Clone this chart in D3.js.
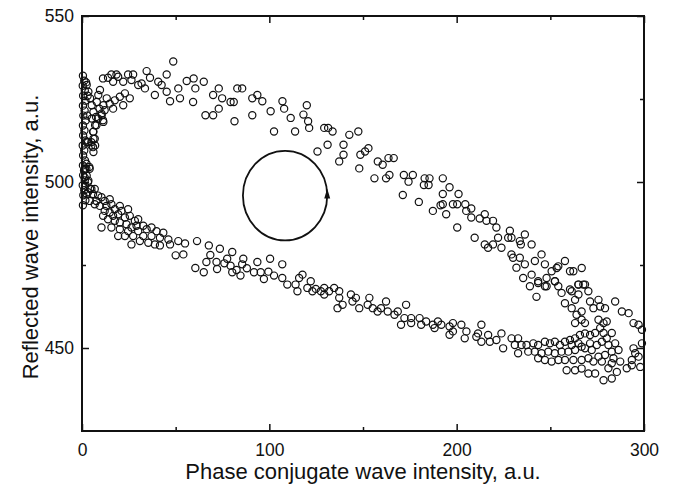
<!DOCTYPE html>
<html>
<head>
<meta charset="utf-8">
<script src="https://cdn.jsdelivr.net/npm/d3@7"></script>
<style>
  body { margin: 0; background: #fff; }
  svg { display: block; font-family: "Liberation Sans", Arial, sans-serif; }
</style>
</head>
<body>
<div id="chart"></div>
<script>
// Axis setup
const xDomain = [0, 300];
const yDomain = [425, 550];
const xTicks = [0, 100, 200, 300];
const xMinorTicks = [50, 150, 250];
const yTicks = [450, 500, 550];
const yMinorTicks = [475, 525];

// Loop annotation (centre and radii in data units)
const loopCentre = [108.4, 495.9];
const loopRadius = [22.5, 13.5];

// Points squeezed against the left axis
const leftEdge = [
  [0.5,532],[1.2,530.5],[0.4,529],[1.5,527.5],[0.6,526],[1.8,524.5],[0.5,523],[1.4,521.5],
  [0.7,520],[2,518.5],[0.5,517],[1.3,515.5],[0.6,514],[1.8,512.5],[0.4,511],[1.2,509.5],
  [0.6,508],[1.6,506.5],[0.5,505],[1.1,503.5],[2.4,505.5],[0.6,502],[1.5,500.5],[0.4,499],
  [1.2,497.5],[0.7,496],[1.8,494.5],[0.5,493],[2.5,512],[2.8,520],[3,526],[2.2,530]
];

// Dense knot near x = 0..15
const knot = [
  [2.5,529.2],[3.4,527.2],[4.3,525.2],[5.2,523.1],[6.1,521.1],[5.2,519.1],[7,517.1],[6.1,515.1],
  [6.1,513],[7,511],[6.1,509],[3.9,504.5],[1.6,503.9],[2.5,501.9],[3.4,500.4],[1.6,498.9],
  [4.3,497.9],[2.5,496.4],[7.9,524.1],[8.7,526.2],[9.6,527.7],[9.3,522.1],[10.5,520.1],[7.5,519.6],
  [11.4,523.1],[13.2,525.2],[11.4,518.1],[12.1,521.6],[10.4,520.6],[8.6,519.1],[11.2,518.6],
  [7.7,517.1],[5.9,515.1],[6.8,513],[5,511],[3.2,512],[14.8,523.6],[16.6,522.1],[5,512],
  [5.9,510.5],[2.3,504],[4.1,504]
];

// Upper branch (increasing PC intensity, reflected wave falling from ~530)
const upperBranch = [
  [48.7,536.3],[11.2,531.2],[13.9,531.4],[15.7,532.4],[18.4,532.4],[19.3,531.7],[24.6,532.4],[27.3,532.4],
  [34.5,533.4],[45.2,532.4],[36.3,531.4],[40.7,530.2],[30,529.2],[26.4,530.7],[22,530.2],[16.6,530.2],
  [31.8,529.7],[42.5,529.2],[45.2,527.2],[51.4,528.2],[55.9,530.4],[52.3,525.2],[47,524.3],[38.9,526.2],
  [33.6,528.2],[22.9,526.7],[20.2,525.7],[25.5,525.2],[17.5,524.6],[22,523.1],
  [59.6,531.2],[60.5,528.2],[65,530.2],[59.3,524.1],[65.9,520.1],[70,520.1],[73,528.2],[70,526.2],
  [74.8,525.2],[79.3,524.1],[81,524.1],[81.4,518.3],[73,522.1],[82.9,528.2],[85.5,528.2],
  [90.9,525.2],[93.6,526.2],[96.25,524.3],[90.9,520.1],[100.7,521.3],[107,524.3],[107.9,522.1],[111.4,519.3],
  [120,523.1],[118.2,520.3],[120.7,518.3],[121.25,516.3],[102.5,515.2],[113.75,515.2],[129.3,516.3],[131.4,516.3],
  [133.75,515.2],[142.7,514.2],[147.5,515.2],[131.1,511.2],[139.6,511.2],[125.7,509.2],[139.6,508.2],[137.3,506.2],
  [148.6,508.2],[151.1,509.2],[152.9,510.2],[148,504.1],[157.9,506.2],[160.5,505.2],[163.6,507.2],[166.4,507.2],
  [156.1,501.1],[162.3,501.1],[164.1,502.1],[171.8,502.1],[174.3,500.1],[176.6,502.1],[182.9,501.1],[185.5,501.1],
  [182.5,499.1],[185,499.1],[171.25,496.1],[179.8,494],[187.3,491.3],[191.4,493],
  [192.6,501.1],[196.2,498.4],[192.6,496.4],[192.6,493.3],[198,493.3],[200.3,493.3],[201,496.4],[204.6,493.3],
  [207.8,492],[205.1,491.3],[194.4,490.3],[207.8,489.3],[212.3,489],[215,490.3],[215.9,488.3],[219.4,488.3],
  [221.2,486.3],[200.3,486.3],[209.6,483.2],[215,481.2],[216.75,480.2],[219.4,481.2],[222.1,483.2],[223.9,480.2],
  [227.5,483.2],[229.25,483.2],[228.4,485.3],[233.7,482.2],[236.4,484.2],[240,481.2],[234.25,481.2],[229.25,478.2],
  [230.1,477.2],[233.7,477.2],[236.4,475.2],[231.9,474.2],[241.75,476.2],[245.3,478.2],[247.1,475.2],[250.7,473.1],
  [253.4,474.1],[254.25,474.6],[257.8,476.2],[260.5,473.1],[262.3,473.1],[266.75,474.1],[235.5,471.1],[240,472.1],
  [243.5,470.1],[248,471.1],[252.5,470.1],[239.1,468.6],[247.1,468.6],[254.25,468.6],[260.5,467.6],[265,469.1],
  [268.5,469.1]
];

// Turning region at high PC intensity
const turnCluster = [
  [243.5,469.6],[248,468.6],[252.4,470.1],[242.6,465.4],[256,466.6],[261.4,467.1],[265,469.1],[267.6,469.1],
  [265,466.1],[270.3,467.1],[257.8,463.5],[263.2,464.5],[261.4,462],[266.7,461],[264,460],[266.7,458.5],
  [263.2,457.5],[268.5,457.5],[271.2,464],[275.7,464.5],[276.6,462.5],[273,462],[279.2,462],[284.6,464],
  [288.2,461],[291.8,460.5],[294.4,457.5],[297.1,457],[298.9,455.5],[275.7,458.5],[278.4,457.5],[280.1,458],
  [276.6,456],[273.9,454.5],[278.4,454.5],[282.8,454.5],[280.1,452.9],[277.5,451.9],[274.8,450.9],[281,450.9],
  [284.6,451.4],[286.4,449.4],[282.8,448.9],[279.2,447.9],[275.7,447.4],[283.7,446.9],[287.3,445.9],[282.8,445.4],
  [277.5,445.9],[290.8,443.9],[285.5,442.8],[281,443.9],[293.5,446.4],[297.1,447.4],[298.9,451.4],[294.4,449.9],
  [295.3,448.4],[298,444.3],[293.5,444.8],
  [240.9,451.4],[243.5,450.9],[247.1,451.9],[249.8,451.4],[252.4,451.9],[255.1,450.9],[257.8,451.9],[260.5,452.4],
  [263.2,452.9],[265.8,453.9],[268.5,454.4],[271.2,453.9],[265,451.4],[261.4,450.9],[266.7,450.4],[271.2,451.4],
  [241.7,448.9],[245.3,448.4],[248.9,448.9],[252.4,448.4],[256,448.9],[259.6,448.9],[263.2,449.4],[268.5,449.9],
  [272.1,449.4],[247.1,446.4],[250.7,445.9],[254.3,446.4],[257.8,446.4],[262.3,446.4],[266.7,446.4],[270.3,446.9],
  [273,445.9],[243.5,446.9],[258.7,443.3],[263.2,443.3],[266.7,443.8],[270.3,442.3],[273.9,442.3],[278.4,440.3],
  [282.8,440.8]
];

// Lower branch (decreasing PC intensity, back towards ~500)
const lowerBranch = [
  [1.4,501.4],[3.2,499.9],[5,497.9],[6.8,497.9],[3.2,496.9],[5.9,496.4],[8.6,495.9],[10.4,495.4],
  [12.1,494.3],[14.8,494.8],[7.7,494.3],[4.1,494.3],[6.8,493.3],[9.5,492.8],[13,492.8],[15.7,493.3],
  [17.5,491.8],[20.2,492.8],[21.1,491.3],[24.6,491.8],[12.1,491.3],[14.8,490.8],[16.6,489.8],[19.3,490.3],
  [22.9,489.3],[25.5,489.8],[28.2,488.3],[30,488.8],[11.25,489.8],[13.9,488.8],[17.5,488.3],[20.2,487.8],
  [23.75,487.3],[26.4,486.3],[29.1,486.8],[32.7,486.8],[10.4,486.3],[15.7,486.3],[20.2,485.8],[24.6,485.2],
  [30,485.2],[34.5,485.8],[37.1,486.3],[39.8,485.2],[43.4,484.7],[19.3,483.7],[22.9,483.7],[27.3,483.7],
  [32.7,483.7],[37.1,483.7],[41.6,483.2],[46.1,482.7],[26.4,481.2],[30.9,482.2],[35.4,481.7],[38.9,481.2],
  [41.6,480.9],[47,481.2],[51.4,482.2],[55,481.5],[50,477.9],[54.1,478.2],
  [61.4,482.2],[67.7,480.9],[73.6,479.9],[80.2,478.9],[86.1,476.9],[93.6,475.9],[100.4,476.9],
  [60.5,474.1],[65,472.8],[66.4,475.9],[71.8,475.9],[77.5,476.9],[79.3,474.8],[72.1,473.8],[80.2,472.8],
  [85.5,475.2],[84.6,471.8],[91.8,472.8],[95.4,472.8],[97.1,470.8],[102.5,471.8],
  [68.5,478],[76,475.5],[82.5,473.5],[88,474],[99.5,473],
  [106.9,475.2],[106.9,471.1],[109.6,469.1],[114,469.1],[115.9,471.1],[117.7,472.1],[115,467.1],[120.3,468.1],
  [122.1,470.1],[123,467.1],[124.8,467.8],[127.5,467.1],[129.3,468.1],[129.3,466.1],[131.9,467.1],[134.6,468.1],
  [137.3,467.1],[137.3,465.1],[136.4,462],[139.1,463],[143.55,466.1],[144.4,464],[146.2,465.1],[148,462],
  [153.4,465.1],[152.5,463],[155.2,462],[157.8,461],[159.6,462],[162.3,464],[163.2,461],[166.8,460],
  [168.55,461],[173,463],[172.1,459],[170.3,457],[175.7,459],[175.7,457.5],[180.2,459],[181.05,457],
  [183.7,458],[187.3,457],[188.2,456],[190,458],[191.8,457],[196.2,456.5],[198,457.5],[196.2,454],
  [198,455],[202.5,457],[205.2,455],[204.3,452.9],[211.4,454.4],[213.2,457],[210.5,453.4],[213.2,451.9],
  [216.8,453.9],[217.7,451.9],[221.2,452.4],[223.9,454.4],[224.8,449.9],[229.3,452.9],[231.05,450.9],[232.8,452.9],
  [234.6,450.9],[232.8,448.4],[237.3,450.9],[238.2,448.9]
];

const allPoints = [].concat(leftEdge, knot, upperBranch, turnCluster, lowerBranch);

const width = 677, height = 494;
const plot = { left: 82, right: 644, top: 16, bottom: 431 };

const svg = d3.select('#chart')
  .append('svg')
  .attr('width', width)
  .attr('height', height);

const x = d3.scaleLinear().domain(xDomain).range([plot.left, plot.right]);
const y = d3.scaleLinear().domain(yDomain).range([plot.bottom, plot.top]);

// Points
svg.append('g')
  .selectAll('circle')
  .data(allPoints)
  .enter()
  .append('circle')
  .attr('cx', d => x(d[0]))
  .attr('cy', d => y(d[1]))
  .attr('r', 3.6)
  .attr('fill', 'none')
  .attr('stroke', '#111')
  .attr('stroke-width', 1.2);

// Loop direction circle with arrow
const cx = x(loopCentre[0]);
const cy = y(loopCentre[1]);
const rx = x(loopCentre[0] + loopRadius[0]) - cx;
const ry = y(loopCentre[1] - loopRadius[1]) - cy;

svg.append('ellipse')
  .attr('cx', cx).attr('cy', cy)
  .attr('rx', rx).attr('ry', ry)
  .attr('fill', 'none')
  .attr('stroke', '#111')
  .attr('stroke-width', 1.8);

svg.append('path')
  .attr('d', `M${cx + rx},${cy - 7} L${cx + rx - 3},${cy + 3} L${cx + rx + 3},${cy + 3} Z`)
  .attr('fill', '#111');

// Axes - all ticks point inwards
const axisStyle = g => {
  g.select('.domain').remove();
  g.selectAll('line').attr('stroke', '#111').attr('stroke-width', 1.5);
  g.selectAll('text').attr('fill', '#111').style('font-size', '17.5px');
};

svg.append('g')
  .attr('transform', `translate(0,${plot.bottom})`)
  .call(d3.axisBottom(x).tickValues(xTicks).tickSize(-7).tickPadding(13).tickFormat(d3.format('d')))
  .call(axisStyle);
svg.append('g')
  .attr('transform', `translate(0,${plot.bottom})`)
  .call(d3.axisBottom(x).tickValues(xMinorTicks).tickSize(-4).tickFormat(''))
  .call(axisStyle);
svg.append('g')
  .attr('transform', `translate(0,${plot.top})`)
  .call(d3.axisTop(x).tickValues(xTicks).tickSize(-7).tickFormat(''))
  .call(axisStyle);
svg.append('g')
  .attr('transform', `translate(0,${plot.top})`)
  .call(d3.axisTop(x).tickValues(xMinorTicks).tickSize(-4).tickFormat(''))
  .call(axisStyle);

svg.append('g')
  .attr('transform', `translate(${plot.left},0)`)
  .call(d3.axisLeft(y).tickValues(yTicks).tickSize(-7).tickPadding(8).tickFormat(d3.format('d')))
  .call(axisStyle);
svg.append('g')
  .attr('transform', `translate(${plot.left},0)`)
  .call(d3.axisLeft(y).tickValues(yMinorTicks).tickSize(-4).tickFormat(''))
  .call(axisStyle);
svg.append('g')
  .attr('transform', `translate(${plot.right},0)`)
  .call(d3.axisRight(y).tickValues(yTicks).tickSize(-7).tickFormat(''))
  .call(axisStyle);
svg.append('g')
  .attr('transform', `translate(${plot.right},0)`)
  .call(d3.axisRight(y).tickValues(yMinorTicks).tickSize(-4).tickFormat(''))
  .call(axisStyle);

// Frame
svg.append('rect')
  .attr('x', plot.left).attr('y', plot.top)
  .attr('width', plot.right - plot.left)
  .attr('height', plot.bottom - plot.top)
  .attr('fill', 'none')
  .attr('stroke', '#111')
  .attr('stroke-width', 2);

// Axis titles
svg.append('text')
  .attr('x', (plot.left + plot.right) / 2)
  .attr('y', 479)
  .attr('text-anchor', 'middle')
  .style('font-size', '22px')
  .attr('fill', '#111')
  .text('Phase conjugate wave intensity, a.u.');

svg.append('text')
  .attr('transform', 'translate(38,237) rotate(-90)')
  .attr('text-anchor', 'middle')
  .style('font-size', '22px')
  .attr('fill', '#111')
  .text('Reflected wave intensity, a.u.');
</script>
</body>
</html>
